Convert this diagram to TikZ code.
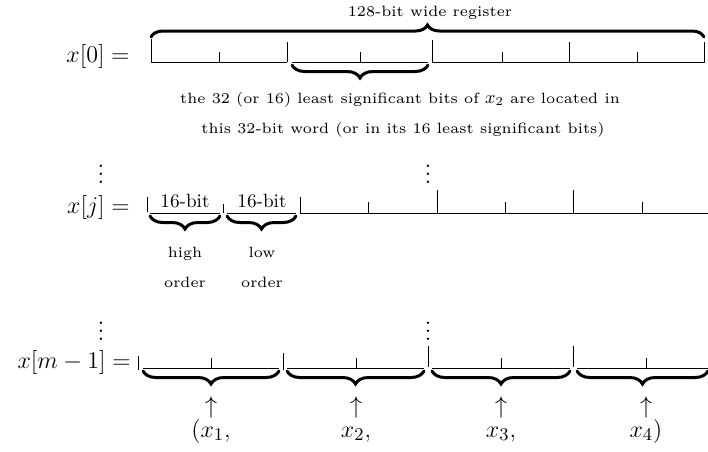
\documentclass[tikz,border=0pt]{standalone}
\usetikzlibrary{decorations.pathreplacing}
\font\sixrm="[lmroman6-regular]" at 7.45pt
\begin{document}
\begin{tikzpicture}[x=0.5pt,y=-0.5pt,
  reg/.style={line width=0.5pt},
  brc/.style={decorate,decoration={brace,amplitude=6.5pt},line width=1.5pt,line cap=round},
  lbl/.style={inner sep=0pt,font=\fontsize{12.5}{15}\selectfont},
  sml/.style={inner sep=0pt,font=\fontsize{8.6}{10}\selectfont\sixrm},
  mid/.style={inner sep=0pt,font=\fontsize{9.6}{11}\selectfont}]
\useasboundingbox (0,0) rectangle (708,451);
% ---------- row x[0]
\node[lbl,anchor=base east] (x0) at (130,62) {$x[0] =$};
\draw[reg] (151,39) -- (151,62) -- (287,62) (287,42) -- (287,62) (219,52) -- (219,62);
\draw[reg] (292,62) -- (428,62) (360,52) -- (360,62);
\draw[reg] (432,40) -- (432,62) -- (704,62) -- (704,42) (502,52) -- (502,62)
  (569,42) -- (569,62) (637,52) -- (637,62);
\coordinate (ob1) at (151,37); \coordinate (ob2) at (704,37);
\draw[brc,decoration={amplitude=6pt}] (ob1) -- (ob2);
\node[sml,anchor=base] (reg) at (430,16) {128-bit wide register};
\coordinate (ub1) at (428,65); \coordinate (ub2) at (292,65);
\draw[brc] (ub1) -- (ub2);
\node[sml,anchor=base] (t1) at (400,103) {the 32 (or 16) least significant bits of $x_2$ are located in};
\node[sml,anchor=base] (t2) at (403,133) {this 32-bit word (or in its 16 least significant bits)};
% ---------- dots
\node[lbl] (d1) at (101,168) {$\vdots$};
\node[lbl] (d2) at (428,168) {$\vdots$};
% ---------- row x[j]
\node[lbl,anchor=base east] (xj) at (130,213) {$x[j] =$};
\draw[reg] (147,197) -- (147,212);
\draw[reg] (150,213) -- (220,213) (223,204) -- (223,213) (227,213) -- (296,213);
\draw[reg] (300,197) -- (300,213) -- (708,213) (368,202) -- (368,213) (437,190) -- (437,213)
  (505,202) -- (505,213) (573,190) -- (573,213) (642,202) -- (642,213);
\node[mid,anchor=base] (h16) at (185,207) {16-bit};
\node[mid,anchor=base] (l16) at (262,207) {16-bit};
\coordinate (hb1) at (220,216); \coordinate (hb2) at (150,216);
\coordinate (lb1) at (296,216); \coordinate (lb2) at (227,216);
\draw[brc] (hb1) -- (hb2);
\draw[brc] (lb1) -- (lb2);
\node[sml,anchor=base] (hi) at (185,257) {high};
\node[sml,anchor=base] (lo) at (262,257) {low};
\node[sml,anchor=base] (ho) at (185,287) {order};
\node[sml,anchor=base] (lor) at (262,287) {order};
% ---------- dots
\node[lbl] (d3) at (101,325) {$\vdots$};
\node[lbl] (d4) at (428,325) {$\vdots$};
% ---------- row x[m-1]
\node[lbl,anchor=base east] (xm) at (131,368) {$x[m-1] =$};
\draw[reg] (138,356) -- (138,370);
\draw[reg] (143,368) -- (279,368) (211,358) -- (211,368);
\draw[reg] (283,353) -- (283,370) (287,368) -- (424,368) (356,358) -- (356,368);
\draw[reg] (428,346) -- (428,367) (432,368) -- (570,368) (501,358) -- (501,368);
\draw[reg] (573,346) -- (573,367) (577,368) -- (708,368) (646,358) -- (646,368);
\foreach \a/\b/\n in {279/143/1,424/287/2,570/432/3,708/577/4}{
  \coordinate (u\n a) at (\a,371); \coordinate (u\n b) at (\b,371);
  \draw[brc] (u\n a) -- (u\n b);
}
\node[lbl] (ar1) at (211,407) {$\uparrow$};
\node[lbl] (ar2) at (356,407) {$\uparrow$};
\node[lbl] (ar3) at (501,407) {$\uparrow$};
\node[lbl] (ar4) at (646,407) {$\uparrow$};
\node[lbl,anchor=base] (v1) at (211,437) {$(x_1,$};
\node[lbl,anchor=base] (v2) at (356,437) {$x_2,$};
\node[lbl,anchor=base] (v3) at (501,437) {$x_3,$};
\node[lbl,anchor=base] (v4) at (646,437) {$x_4)$};
\end{tikzpicture}
\end{document}
